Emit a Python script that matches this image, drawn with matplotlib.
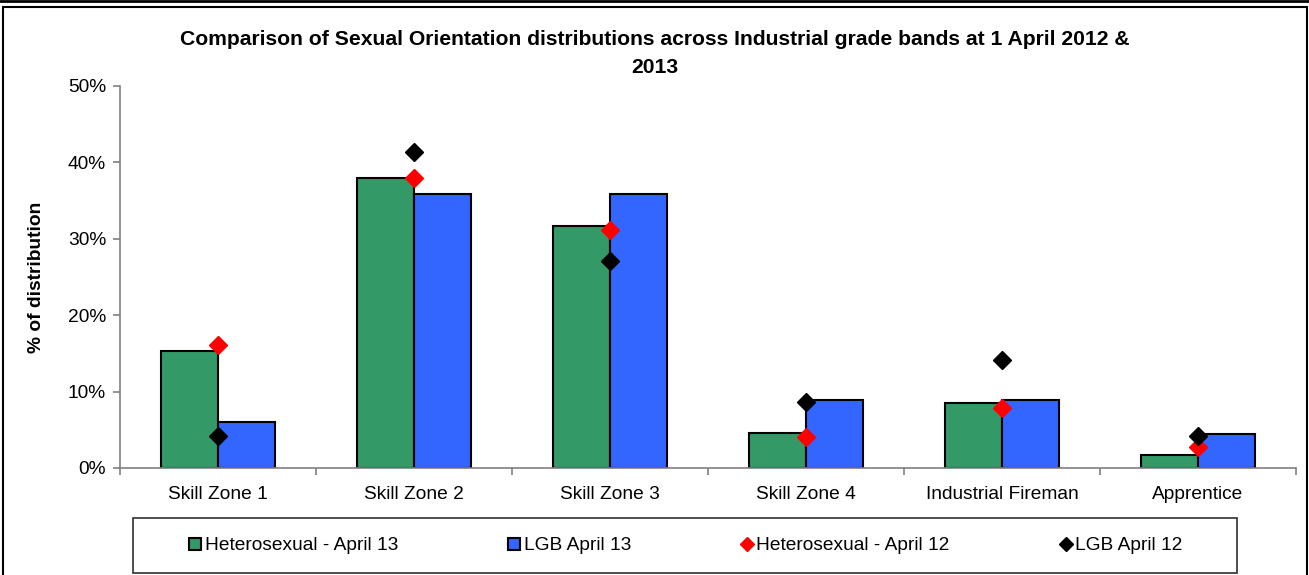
import matplotlib
matplotlib.use("Agg")
import matplotlib.pyplot as plt
import numpy as np
from matplotlib.lines import Line2D
from matplotlib.patches import Rectangle

plt.rcParams['font.family'] = ['Liberation Sans', 'DejaVu Sans']

categories = ["Skill Zone 1", "Skill Zone 2", "Skill Zone 3", "Skill Zone 4",
              "Industrial Fireman", "Apprentice"]
hetero_13 = [15.3, 38.0, 31.7, 4.6, 8.5, 1.7]
lgb_13 = [6.0, 35.8, 35.8, 8.9, 8.9, 4.4]
hetero_12 = [16.1, 38.0, 31.2, 4.0, 7.9, 2.7]
lgb_12 = [4.2, 41.4, 27.1, 8.6, 14.2, 4.2]
yticks = [0, 10, 20, 30, 40, 50]
ytick_labels = ["0%", "10%", "20%", "30%", "40%", "50%"]
title = "Comparison of Sexual Orientation distributions across Industrial grade bands at 1 April 2012 &\n2013"
series_names = ["Heterosexual - April 13", "LGB April 13", "Heterosexual - April 12", "LGB April 12"]

W, H = 1309, 575
FS = 13.8
fig = plt.figure(figsize=(W / 100, H / 100), dpi=100)
ax = fig.add_axes([120 / W, (H - 468) / H, 1176 / W, 382 / H])

x = np.arange(len(categories))
bw = 0.29
green = "#339966"
blue = "#3366FF"
ax.bar(x - bw / 2, hetero_13, width=bw, color=green, edgecolor="black", linewidth=1.5, zorder=2)
ax.bar(x + bw / 2, lgb_13, width=bw, color=blue, edgecolor="black", linewidth=1.5, zorder=2)
ax.plot(x, hetero_12, linestyle="none", marker="D", markersize=9.5, color="#FF0000", mec="#FF0000", zorder=3)
ax.plot(x, lgb_12, linestyle="none", marker="D", markersize=9.5, color="black", mec="black", zorder=3)

ax.set_xlim(-0.5, len(categories) - 0.5)
ax.set_ylim(0, 50)
ax.set_yticks(yticks)
ax.set_yticklabels(ytick_labels, fontsize=FS)
ax.set_xticks(x)
ax.set_xticklabels(categories, fontsize=FS)
ax.set_xticks(np.arange(len(categories) + 1) - 0.5, minor=True)
ax.tick_params(axis="x", which="major", length=0, pad=13)
ax.tick_params(axis="x", which="minor", length=5, color="#808080", width=1.2)
ax.tick_params(axis="y", length=5, color="#808080", width=1.2, pad=5)
for s in ["top", "right"]:
    ax.spines[s].set_visible(False)
ax.spines["left"].set_color("#808080")
ax.spines["bottom"].set_color("#808080")
ax.spines["left"].set_linewidth(1.2)
ax.spines["bottom"].set_linewidth(1.2)

ax.set_ylabel("% of distribution", fontsize=FS, fontweight="bold")
ax.yaxis.set_label_coords(-0.064, 0.5)

fig.text(0.5, 1 - 53.5 / H, title, ha="center", va="center", fontsize=15.2,
         fontweight="bold", linespacing=1.62)

# legend box
fig.patches.append(Rectangle((133 / W, (H - 573) / H), (1237 - 133) / W, (573 - 518) / H,
                             transform=fig.transFigure, fill=False, edgecolor="#303030",
                             linewidth=1.2))
# outer frame
fig.patches.append(Rectangle((3 / W, -0.05), (1307 - 3) / W, (H - 7) / H + 0.05,
                             transform=fig.transFigure, fill=False, edgecolor="black",
                             linewidth=1.5))
fig.lines.append(Line2D([0, 1], [1 - 1 / H, 1 - 1 / H], transform=fig.transFigure,
                        color="black", linewidth=2))

handles = [
    Line2D([], [], linestyle="none", marker="s", markersize=8.2, color=green, mec="black", mew=1.5),
    Line2D([], [], linestyle="none", marker="s", markersize=8.2, color=blue, mec="black", mew=1.5),
    Line2D([], [], linestyle="none", marker="D", markersize=7, color="#FF0000", mec="#FF0000"),
    Line2D([], [], linestyle="none", marker="D", markersize=7, color="black", mec="black"),
]
fig.legend(handles, series_names, loc="center", bbox_to_anchor=(686 / W, 1 - 545.5 / H),
           ncol=4, frameon=False, fontsize=FS, handlelength=0.6, handletextpad=0.2,
           columnspacing=5.75)

fig.savefig("out.png", dpi=100)
